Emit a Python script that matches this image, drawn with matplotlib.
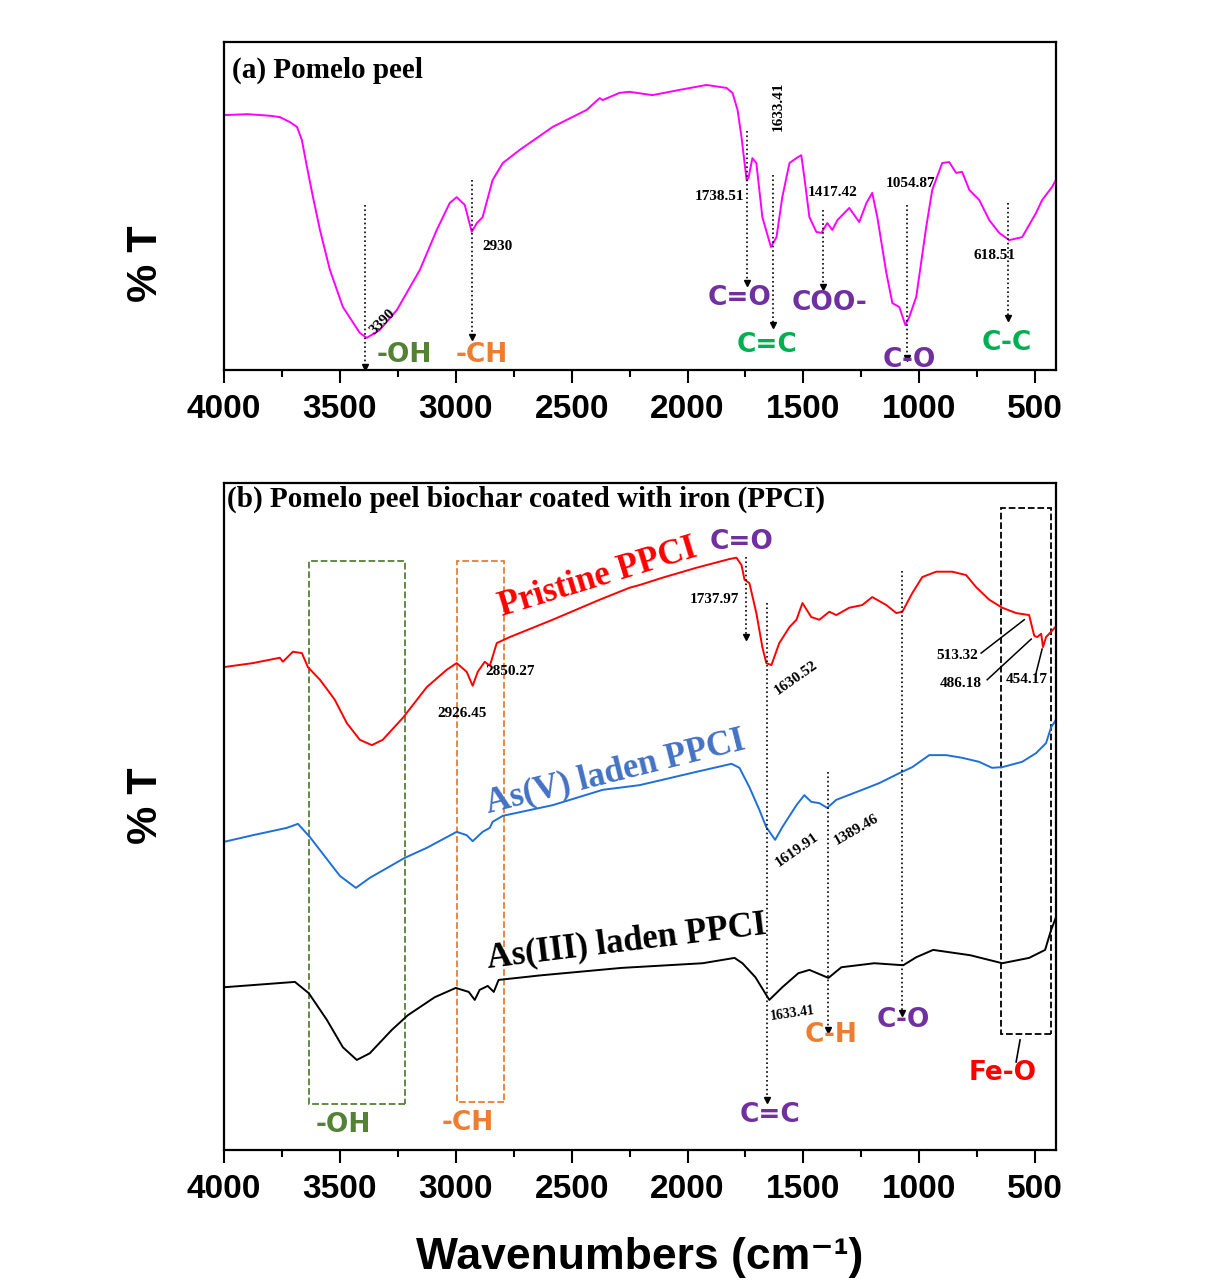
import matplotlib
matplotlib.use("Agg")
import matplotlib.pyplot as plt
from matplotlib.patches import Rectangle

plt.rcParams["font.family"] = ["Liberation Sans", "DejaVu Sans"]
plt.rcParams["font.weight"] = "bold"

SERIF = ["Liberation Serif", "DejaVu Serif"]
GROUP = ["DejaVu Sans"]

# ---- data: (a) raw pomelo peel
pomelo_wn = [4000, 3900, 3800, 3759, 3716, 3685, 3664, 3642, 3616, 3586, 3543, 3487,
             3414, 3384, 3328, 3254, 3155, 3082, 3026, 2996, 2961, 2931, 2909, 2884,
             2841, 2797, 2724, 2582, 2435, 2379, 2366, 2293, 2250, 2151, 2034, 1918,
             1832, 1806, 1784, 1767, 1745, 1737, 1720, 1703, 1677, 1640, 1616, 1591,
             1560, 1530, 1509, 1496, 1474, 1444, 1422, 1397, 1375, 1353, 1302, 1259,
             1228, 1203, 1181, 1142, 1116, 1086, 1060, 1043, 1013, 970, 944, 901, 871,
             841, 815, 784, 741, 698, 655, 612, 556, 496, 470, 427, 410]
pomelo_t = [77.7, 78.0, 77.5, 77.1, 75.6, 74.1, 70.1, 61.9, 52.7, 42.7, 30.5, 19.2,
            11.3, 9.8, 12.2, 18.3, 30.5, 42.7, 50.9, 52.7, 50.3, 42.1, 44.8, 46.6,
            57.9, 63.1, 67.1, 74.1, 79.3, 82.9, 82.3, 84.5, 84.8, 83.8, 85.4, 86.9,
            86.0, 84.5, 79.3, 71.0, 57.9, 58.5, 64.6, 63.1, 46.6, 37.5, 40.5, 52.7,
            63.1, 64.6, 65.5, 58.8, 46.6, 42.1, 41.8, 44.8, 42.7, 45.7, 49.4, 45.1,
            50.9, 54.0, 46.6, 29.6, 20.4, 19.2, 13.7, 16.2, 22.3, 43.6, 54.9, 63.1, 63.4,
            60.1, 60.4, 54.9, 51.8, 45.7, 41.8, 39.6, 40.5, 47.9, 51.8, 55.8, 58.0]

# ---- data: (b) PPCI spectra
pristine_wn = [4000, 3875, 3759, 3746, 3703, 3664, 3638, 3586, 3543, 3522, 3470, 3414,
               3362, 3315, 3228, 3125, 3039, 2996, 2953, 2927, 2905, 2875, 2853, 2823,
               2767, 2582, 2379, 2250, 2207, 2108, 1961, 1819, 1789, 1767, 1754, 1733,
               1703, 1677, 1660, 1638, 1604, 1560, 1530, 1504, 1466, 1431, 1388, 1358,
               1302, 1246, 1203, 1142, 1099, 1073, 1030, 987, 927, 858, 798, 755, 698,
               642, 582, 526, 504, 491, 474, 466, 453, 431, 410]
pristine_t = [72.4, 73.0, 73.8, 73.2, 74.7, 74.5, 72.4, 70.5, 68.5, 67.5, 64.0, 61.5,
              60.7, 61.5, 64.8, 69.4, 72.0, 73.0, 71.7, 69.6, 71.7, 73.2, 72.6, 76.0,
              76.9, 79.5, 82.5, 84.3, 84.7, 85.8, 87.3, 88.6, 88.8, 87.7, 85.5, 85.0,
              80.5, 75.4, 73.0, 72.7, 76.0, 78.4, 79.5, 82.0, 79.9, 79.5, 80.7, 80.2,
              81.3, 81.7, 82.9, 81.7, 80.5, 80.7, 83.5, 85.9, 86.7, 86.7, 86.2, 84.4, 82.5,
              81.3, 80.5, 80.2, 77.1, 76.9, 77.4, 75.4, 76.9, 77.7, 78.5]

asv_wn = [4000, 3875, 3728, 3681, 3629, 3500, 3431, 3371, 3220, 3125, 2996, 2953,
          2927, 2884, 2853, 2841, 2797, 2582, 2366, 2207, 2108, 1961, 1810, 1776,
          1733, 1690, 1660, 1622, 1591, 1530, 1496, 1466, 1431, 1397, 1358, 1246,
          1173, 1086, 1030, 957, 884, 815, 742, 686, 642, 556, 496, 453, 431, 410]
asv_t = [46.2, 47.2, 48.3, 48.9, 46.9, 41.1, 39.3, 40.8, 43.8, 45.3, 47.7, 47.2,
         46.3, 47.7, 48.3, 49.2, 50.1, 51.7, 54.0, 54.7, 55.5, 56.7, 57.9, 57.3,
         54.4, 51.0, 48.4, 46.5, 48.4, 51.7, 53.2, 52.2, 52.0, 51.3, 52.5, 54.0,
         55.0, 56.5, 57.4, 59.2, 59.2, 58.8, 58.2, 57.3, 57.4, 58.2, 59.5, 61.0, 63.4, 64.5]

asiii_wn = [4000, 3694, 3634, 3556, 3487, 3427, 3371, 3276, 3207, 3091, 3000, 2944,
            2918, 2897, 2862, 2836, 2815, 2629, 2285, 1935, 1797, 1763, 1707, 1647,
            1591, 1522, 1474, 1392, 1336, 1194, 1069, 1013, 940, 780, 642, 526, 457,
            431, 410]
asiii_t = [24.4, 25.2, 23.5, 19.5, 15.4, 13.5, 14.5, 18.0, 20.2, 22.9, 24.3, 23.7,
           22.5, 24.0, 24.6, 23.7, 25.5, 26.2, 27.3, 28.0, 28.8, 28.0, 25.9, 22.5,
           24.4, 26.5, 27.0, 25.8, 27.4, 28.0, 27.7, 28.9, 30.0, 29.2, 28.0, 28.8, 30.0,
           33.0, 34.9]

xticks = [4000, 3500, 3000, 2500, 2000, 1500, 1000, 500]

GREEN_OH = "#548235"
ORANGE = "#ED7D31"
PURPLE = "#7030A0"
GREEN = "#00B050"


def style_axis(ax):
    ax.set_xlim(4000, 410)
    ax.set_ylim(0, 100)
    ax.set_yticks([])
    ax.set_xticks(xticks)
    ax.set_xticks([3750, 3250, 2750, 2250, 1750, 1250, 750], minor=True)
    ax.tick_params(axis="x", which="major", length=9, width=1.5, labelsize=24, pad=8)
    ax.tick_params(axis="x", which="minor", length=5, width=1.5)
    for s in ax.spines.values():
        s.set_linewidth(1.6)


def down_arrow(ax, x, y0, y1, lw=1.2):
    ax.plot([x, x], [y0, y1], color="black", ls=":", lw=lw)
    ax.plot(x, y1, marker="v", color="black", ms=4)


def num(ax, x, y, s, rot=0, size=11, ha="center"):
    ax.text(x, y, s, family=SERIF, fontsize=size, ha=ha, va="center",
            rotation=rot, rotation_mode="anchor")


def group(ax, x, y, s, color, size=19):
    ax.text(x, y, s, family=GROUP, fontsize=size, color=color, ha="center", va="center")


fig = plt.figure(figsize=(12.16, 12.84), dpi=100)
ax1 = fig.add_axes([224 / 1216, 1 - 370 / 1284, 832 / 1216, 328 / 1284])
ax2 = fig.add_axes([224 / 1216, 1 - 1150 / 1284, 832 / 1216, 667 / 1284])

# ---- panel (a)
ax1.plot(pomelo_wn, pomelo_t, color="#FF00FF", lw=1.4)
style_axis(ax1)
ax1.text(0.01, 0.915, "(a) Pomelo peel", transform=ax1.transAxes, family=SERIF,
         fontsize=21, ha="left", va="center")

down_arrow(ax1, 3390, 50.3, 0.8)
down_arrow(ax1, 2930, 57.9, 10)
down_arrow(ax1, 1745, 73, 26.5)
down_arrow(ax1, 1633, 59.5, 13.7)
down_arrow(ax1, 1417, 48.8, 25.3)
down_arrow(ax1, 1054, 50.3, 3.7)
down_arrow(ax1, 618, 50.9, 15.9)

num(ax1, 3314, 14.6, "3390", rot=45)
num(ax1, 2884, 37.8, "2930", ha="left")
num(ax1, 1754, 53, "1738.51", ha="right")
num(ax1, 1609, 80.5, "1633.41", rot=90)
num(ax1, 1375, 54, "1417.42")
num(ax1, 1039, 57, "1054.87")
num(ax1, 677, 35, "618.51")

group(ax1, 3220, 4.6, "-OH", GREEN_OH)
group(ax1, 2888, 4.6, "-CH", ORANGE)
group(ax1, 1776, 22, "C=O", PURPLE)
group(ax1, 1388, 20.4, "COO-", PURPLE)
group(ax1, 1655, 7.6, "C=C", GREEN)
group(ax1, 1043, 3, "C-O", PURPLE)
group(ax1, 621, 8.2, "C-C", GREEN)

# ---- panel (b)
ax2.plot(pristine_wn, pristine_t, color="#FF0000", lw=1.4)
ax2.plot(asv_wn, asv_t, color="#1F6FD8", lw=1.4)
ax2.plot(asiii_wn, asiii_t, color="black", lw=1.4)
style_axis(ax2)
ax2.text(0.004, 0.975, "(b) Pomelo peel biochar coated with iron (PPCI)",
         transform=ax2.transAxes, family=SERIF, fontsize=21, ha="left", va="center")

for (x0, x1, y0, y1, c) in [(3634, 3220, 6.9, 88.3, GREEN_OH),
                            (2996, 2793, 7.2, 88.3, ORANGE),
                            (646, 431, 17.4, 96.3, "black")]:
    ax2.add_patch(Rectangle((x1, y0), x0 - x1, y1 - y0, fill=False,
                            edgecolor=c, ls="--", lw=1.3))

down_arrow(ax2, 1746, 88.9, 76.9)
down_arrow(ax2, 1655, 82, 7.5)
down_arrow(ax2, 1395, 56.7, 18)
down_arrow(ax2, 1073, 86.8, 20.5)

ax2.plot([582, 565], [13.2, 16.5], color="black", lw=1.2)
for (xa, ya, xb, yb) in [(733, 74.5, 547, 79.5), (707, 70.5, 517, 76.6), (496, 71.5, 470, 75.1)]:
    ax2.plot([xa, xb], [ya, yb], color="black", lw=1.1)

num(ax2, 1884, 82.5, "1737.97")
num(ax2, 2974, 65.5, "2926.45")
num(ax2, 2767, 71.8, "2850.27")
num(ax2, 1530, 70.8, "1630.52", rot=35)
num(ax2, 1526, 45, "1619.91", rot=35)
num(ax2, 1272, 48, "1389.46", rot=30)
num(ax2, 1547, 20.5, "1633.41", rot=8, size=10)
num(ax2, 836, 74.2, "513.32")
num(ax2, 819, 70, "486.18")
num(ax2, 535, 70.5, "454.17")

group(ax2, 1767, 91.2, "C=O", PURPLE)
group(ax2, 3487, 3.7, "-OH", GREEN_OH)
group(ax2, 2948, 4.0, "-CH", ORANGE)
group(ax2, 1642, 5.2, "C=C", PURPLE)
group(ax2, 1380, 17.2, "C-H", ORANGE)
group(ax2, 1069, 19.5, "C-O", PURPLE)
group(ax2, 638, 11.5, "Fe-O", "#FF0000")

for (x, y, s, c, rot) in [(2388, 85.8, "Pristine PPCI", "#FF0000", 17),
                          (2310, 56.7, "As(V) laden PPCI", "#4472C4", 14),
                          (2263, 31.2, "As(III) laden PPCI", "black", 7)]:
    ax2.text(x, y, s, family=SERIF, fontsize=25, color=c, ha="center", va="center",
             rotation=rot, rotation_mode="anchor")

fig.text(146 / 1216, 1 - 264 / 1284, "% T", fontsize=31, rotation=90, ha="center", va="center")
fig.text(146 / 1216, 1 - 806 / 1284, "% T", fontsize=31, rotation=90, ha="center", va="center")
fig.text(640 / 1216, 1 - 1258 / 1284, "Wavenumbers (cm\u207b\u00b9)", fontsize=32,
         ha="center", va="center")

fig.savefig("out.png", dpi=100)
